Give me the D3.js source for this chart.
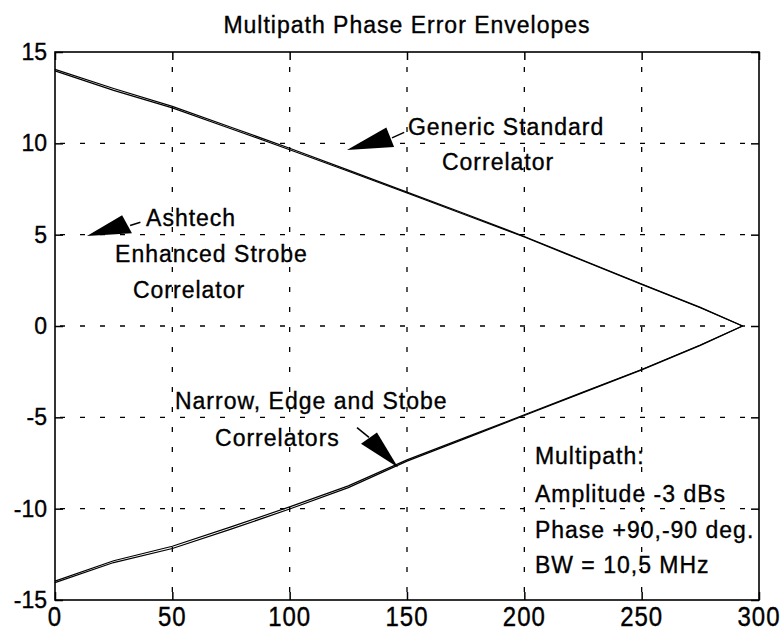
<!DOCTYPE html>
<html>
<head>
<meta charset="utf-8">
<script src="https://cdn.jsdelivr.net/npm/d3@7"></script>
<style>
  body { margin: 0; background: #fff; }
  text { font-family: "Liberation Sans", Arial, Helvetica, sans-serif; fill: #000; stroke: #000; stroke-width: 0.35px; }
</style>
</head>
<body>
<div id="chart"></div>
<script>
// delay axis values
const xValues = [0, 25, 50, 75, 100, 125, 150, 175, 200, 225, 250, 275, 293];

// phase error envelopes (two traces each, nearly on top of each other)
const upperA = [14.05, 13.0, 12.02, 10.88, 9.73, 8.53, 7.33, 6.13, 4.9, 3.6, 2.3, 1.02, 0];
const upperB = [13.97, 12.9, 11.94, 10.8, 9.65, 8.47, 7.28, 6.08, 4.87, 3.57, 2.28, 1.0, 0];
const lowerA = [-14.05, -12.95, -12.18, -11.12, -10.02, -8.85, -7.4, -6.15, -4.9, -3.65, -2.4, -1.06, 0];
const lowerB = [-13.97, -12.85, -12.06, -11.0, -9.9, -8.75, -7.33, -6.1, -4.86, -3.62, -2.38, -1.04, 0];

const xTicks = [0, 50, 100, 150, 200, 250, 300];
const yTicks = [-15, -10, -5, 0, 5, 10, 15];

// annotation arrows: tip, two base corners, tail start, tail end (data units)
const arrows = [
  { tip: [124.4, 9.63], b1: [141.2, 10.87], b2: [144.5, 9.8], t0: [143.6, 10.3], t1: [148.8, 10.6] },
  { tip: [13.6, 4.93], b1: [28.6, 6.06], b2: [32.8, 5.08], t0: [32.0, 5.5], t1: [36.4, 5.68] },
  { tip: [146.2, -7.75], b1: [130.4, -6.44], b2: [137.2, -5.83], t0: [133.8, -6.1], t1: [128.7, -5.56] }
];

// annotation texts (left start, baseline, data units)
const notes = [
  { x: 150.4, y: 10.45, text: "Generic Standard" },
  { x: 164.9, y: 8.53, text: "Correlator" },
  { x: 38.8, y: 5.46, text: "Ashtech" },
  { x: 25.6, y: 3.49, text: "Enhanced Strobe" },
  { x: 33.2, y: 1.51, text: "Correlator" },
  { x: 51.1, y: -4.52, text: "Narrow, Edge and Stobe" },
  { x: 68.2, y: -6.55, text: "Correlators" },
  { x: 204.5, y: -7.53, text: "Multipath:" },
  { x: 204.5, y: -9.62, text: "Amplitude -3 dBs" },
  { x: 204.5, y: -11.59, text: "Phase +90,-90 deg." },
  { x: 204.5, y: -13.51, text: "BW = 10,5 MHz" }
];

const W = 780, H = 635;
const margin = { top: 52, right: 21, bottom: 35, left: 55 };

const svg = d3.select("#chart").append("svg")
  .attr("width", W)
  .attr("height", H);

const x = d3.scaleLinear().domain([0, 300]).range([margin.left, W - margin.right]);
const y = d3.scaleLinear().domain([-15, 15]).range([H - margin.bottom, margin.top]);

// title
svg.append("text")
  .attr("x", (x(0) + x(300)) / 2)
  .attr("y", 33)
  .attr("text-anchor", "middle")
  .style("font-size", "23px")
  .style("letter-spacing", "1px")
  .text("Multipath Phase Error Envelopes");

// grid
const grid = svg.append("g").attr("stroke", "#000").attr("stroke-width", 1.3);
grid.selectAll(".vg")
  .data(xTicks.slice(1, -1))
  .join("line")
  .attr("x1", d => x(d)).attr("x2", d => x(d))
  .attr("y1", y(-15)).attr("y2", y(15))
  .attr("stroke-dasharray", "5,15")
  .attr("stroke-dashoffset", -8);
grid.selectAll(".hg")
  .data(yTicks.slice(1, -1))
  .join("line")
  .attr("y1", d => y(d)).attr("y2", d => y(d))
  .attr("x1", x(0)).attr("x2", x(300))
  .attr("stroke-dasharray", "5,15")
  .attr("stroke-dashoffset", -5);

// axes (ticks inside)
const tickLen = 8;
svg.append("g")
  .attr("transform", `translate(0,${y(-15)})`)
  .call(d3.axisBottom(x).tickValues(xTicks).tickSizeInner(-tickLen).tickSizeOuter(0).tickFormat(""))
  .call(g => g.select(".domain").remove());
svg.append("g")
  .attr("transform", `translate(0,${y(15)})`)
  .call(d3.axisTop(x).tickValues(xTicks).tickSizeInner(-tickLen).tickSizeOuter(0).tickFormat(""))
  .call(g => g.select(".domain").remove());
svg.append("g")
  .attr("transform", `translate(${x(0)},0)`)
  .call(d3.axisLeft(y).tickValues(yTicks).tickSizeInner(-tickLen).tickSizeOuter(0).tickFormat(""))
  .call(g => g.select(".domain").remove());
svg.append("g")
  .attr("transform", `translate(${x(300)},0)`)
  .call(d3.axisRight(y).tickValues(yTicks).tickSizeInner(-tickLen).tickSizeOuter(0).tickFormat(""))
  .call(g => g.select(".domain").remove());
svg.selectAll(".tick line").attr("stroke", "#000").attr("stroke-width", 1.5);

// frame
svg.append("rect")
  .attr("x", x(0)).attr("y", y(15))
  .attr("width", x(300) - x(0)).attr("height", y(-15) - y(15))
  .attr("fill", "none").attr("stroke", "#000").attr("stroke-width", 1.6);

// tick labels
svg.selectAll(".xl")
  .data(xTicks)
  .join("text")
  .attr("transform", d => `translate(${x(d)},626) scale(1,1.15)`)
  .attr("text-anchor", "middle")
  .style("font-size", "24px")
  .style("letter-spacing", "1px")
  .text(d => d);
svg.selectAll(".yl")
  .data(yTicks)
  .join("text")
  .attr("x", 47)
  .attr("y", d => y(d) + 8)
  .attr("text-anchor", "end")
  .style("font-size", "23px")
  .text(d => d);

// curves
const line = d3.line().x(d => x(d[0])).y(d => y(d[1]));
[upperA, upperB, lowerA, lowerB].forEach(vals => {
  svg.append("path")
    .datum(xValues.map((v, i) => [v, vals[i]]))
    .attr("d", line)
    .attr("fill", "none")
    .attr("stroke", "#000")
    .attr("stroke-width", 1.2);
});

// arrows
arrows.forEach(a => {
  svg.append("polygon")
    .attr("points", [a.tip, a.b1, a.b2].map(p => [x(p[0]), y(p[1])].join(",")).join(" "))
    .attr("fill", "#000");
  svg.append("line")
    .attr("x1", x(a.t0[0])).attr("y1", y(a.t0[1]))
    .attr("x2", x(a.t1[0])).attr("y2", y(a.t1[1]))
    .attr("stroke", "#000").attr("stroke-width", 1.5);
});

// annotation texts
svg.selectAll(".note")
  .data(notes)
  .join("text")
  .attr("x", d => x(d.x))
  .attr("y", d => y(d.y))
  .style("font-size", "23px")
  .style("letter-spacing", "1px")
  .text(d => d.text);
</script>
</body>
</html>
